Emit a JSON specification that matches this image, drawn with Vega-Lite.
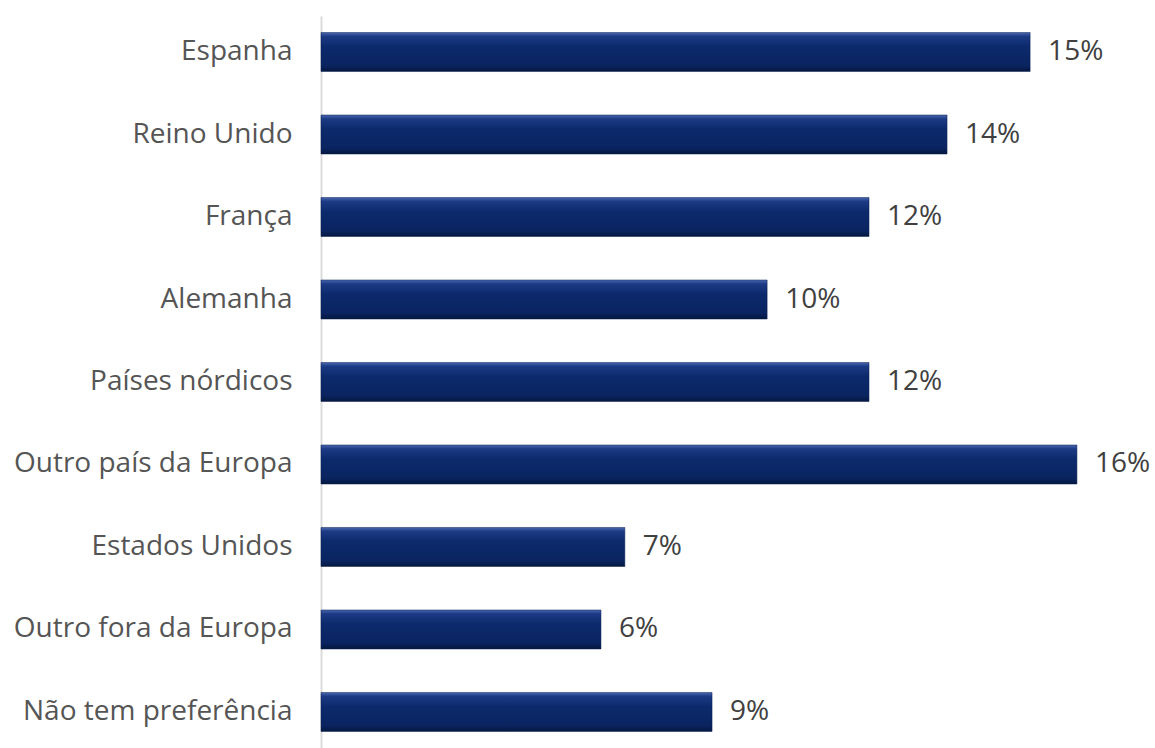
{
  "$schema": "https://vega.github.io/schema/vega-lite/v6.json",
  "autosize": {"type": "none"},
  "width": 800,
  "height": 732,
  "padding": {"left": 321, "top": 16, "right": 34, "bottom": 0},
  "background": "white",
  "config": {"view": {"stroke": null}, "font": "Open Sans"},
  "data": {
    "values": [
      {"pais": "Espanha", "valor": 0.1545},
      {"pais": "Reino Unido", "valor": 0.1364},
      {"pais": "França", "valor": 0.1194},
      {"pais": "Alemanha", "valor": 0.0972},
      {"pais": "Países nórdicos", "valor": 0.1194},
      {"pais": "Outro país da Europa", "valor": 0.1647},
      {"pais": "Estados Unidos", "valor": 0.0662},
      {"pais": "Outro fora da Europa", "valor": 0.061},
      {"pais": "Não tem preferência", "valor": 0.0852}
    ]
  },
  "encoding": {
    "y": {
      "field": "pais",
      "type": "nominal",
      "sort": null,
      "title": null,
      "scale": {"paddingInner": 0.527, "paddingOuter": 0.2},
      "axis": {
        "domain": true,
        "domainColor": "#dcdcdc",
        "domainWidth": 2,
        "ticks": false,
        "labelFont": "Open Sans",
        "labelFontSize": 28,
        "labelColor": "#555555",
        "labelPadding": 29,
        "labelLimit": 400
      }
    },
    "x": {
      "field": "valor",
      "type": "quantitative",
      "scale": {"domain": [0, 0.1743], "nice": false},
      "axis": null
    }
  },
  "layer": [
    {
      "mark": {
        "type": "bar",
        "color": {
          "gradient": "linear",
          "x1": 0, "y1": 0, "x2": 0, "y2": 1,
          "stops": [
            {"offset": 0, "color": "#4a68b0"},
            {"offset": 0.1, "color": "#1d3b85"},
            {"offset": 0.35, "color": "#0c2a6c"},
            {"offset": 0.85, "color": "#0a2460"},
            {"offset": 1, "color": "#04173f"}
          ]
        },
        "stroke": "#0a1e50",
        "strokeWidth": 0.5
      }
    },
    {
      "mark": {
        "type": "text",
        "align": "left",
        "baseline": "middle",
        "dx": 18,
        "font": "Open Sans",
        "fontSize": 28,
        "color": "#404040"
      },
      "encoding": {
        "text": {"field": "valor", "type": "quantitative", "format": ".0%"}
      }
    }
  ]
}
